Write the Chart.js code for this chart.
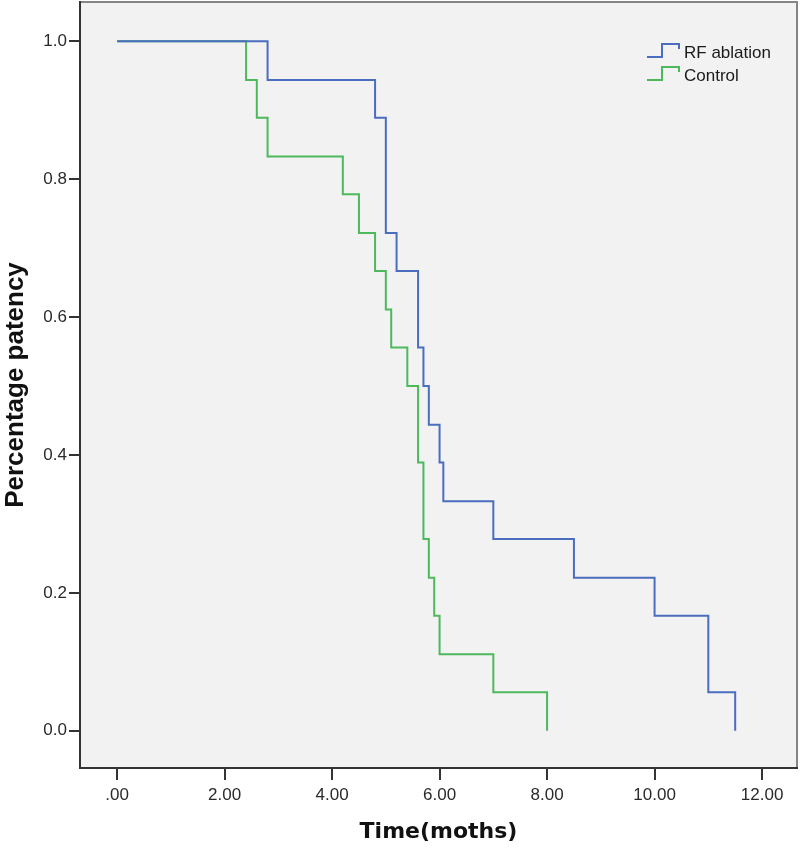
<!DOCTYPE html>
<html>
<head>
<meta charset="utf-8">
<script src="https://cdn.jsdelivr.net/npm/chart.js@4"></script>
<style>
  html, body { margin: 0; padding: 0; background: #ffffff; }
  #wrap { width: 800px; height: 849px; }
</style>
</head>
<body>
<div id="wrap"><canvas id="kmChart" width="800" height="849"></canvas></div>
<script>
// Kaplan-Meier steps (time in months, cumulative patency)
const rfTimes = [0, 2.8, 4.8, 5.0, 5.2, 5.6, 5.7, 5.8, 6.0, 6.07, 7.0, 8.5, 10.0, 11.0, 11.5];
const rfPatency = [1, 0.944, 0.889, 0.722, 0.667, 0.556, 0.5, 0.444, 0.389, 0.333, 0.278, 0.222, 0.167, 0.056, 0];

const controlTimes = [0, 2.4, 2.6, 2.8, 4.2, 4.5, 4.8, 5.0, 5.1, 5.4, 5.6, 5.7, 5.8, 5.9, 6.0, 7.0, 8.0];
const controlPatency = [1, 0.944, 0.889, 0.833, 0.778, 0.722, 0.667, 0.611, 0.556, 0.5, 0.389, 0.278, 0.222, 0.167, 0.111, 0.056, 0];

const seriesNames = ["RF ablation", "Control"];
const seriesColors = ["#4b6dc0", "#4db95c"];

const xTicks = [0, 2, 4, 6, 8, 10, 12];
const yTicks = [0, 0.2, 0.4, 0.6, 0.8, 1.0];

function toPoints(times, values) {
    return times.map((t, i) => ({ x: t, y: values[i] }));
}

// Plot background and grey top/right frame
const plotFrame = {
    id: "plotFrame",
    beforeDraw(chart) {
        const { ctx, chartArea: a } = chart;
        ctx.save();
        ctx.fillStyle = "#f2f2f2";
        ctx.fillRect(a.left, a.top, a.right - a.left, a.bottom - a.top);
        ctx.strokeStyle = "#858585";
        ctx.lineWidth = 2;
        ctx.beginPath();
        ctx.moveTo(a.left, a.top);
        ctx.lineTo(a.right, a.top);
        ctx.lineTo(a.right, a.bottom);
        ctx.stroke();
        ctx.restore();
    }
};

// SPSS style legend with little step icons, inside the plot
const stepLegend = {
    id: "stepLegend",
    afterDatasetsDraw(chart) {
        const { ctx, chartArea: a } = chart;
        ctx.save();
        ctx.font = "17px 'Liberation Sans', Arial, sans-serif";
        ctx.textBaseline = "middle";
        chart.data.datasets.forEach((ds, i) => {
            const x0 = a.right - 150;
            const yc = a.top + 51 + i * 23;
            ctx.strokeStyle = ds.borderColor;
            ctx.lineWidth = 2;
            ctx.beginPath();
            ctx.moveTo(x0, yc + 4);
            ctx.lineTo(x0 + 15, yc + 4);
            ctx.lineTo(x0 + 15, yc - 9);
            ctx.lineTo(x0 + 32, yc - 9);
            ctx.lineTo(x0 + 32, yc - 4);
            ctx.stroke();
            ctx.fillStyle = "#1a1a1a";
            ctx.fillText(ds.label, x0 + 37, yc);
        });
        ctx.restore();
    }
};

const ctx = document.getElementById("kmChart").getContext("2d");
new Chart(ctx, {
    type: "line",
    data: {
        datasets: [
            {
                label: seriesNames[0],
                data: toPoints(rfTimes, rfPatency),
                borderColor: seriesColors[0],
                borderWidth: 2,
                stepped: "before",
                pointRadius: 0,
                fill: false
            },
            {
                label: seriesNames[1],
                data: toPoints(controlTimes, controlPatency),
                borderColor: seriesColors[1],
                borderWidth: 2,
                stepped: "before",
                pointRadius: 0,
                fill: false
            }
        ]
    },
    options: {
        responsive: false,
        animation: false,
        layout: { padding: { top: 2, right: 3, left: 0, bottom: 0 } },
        plugins: {
            legend: { display: false },
            tooltip: { enabled: false }
        },
        scales: {
            x: {
                type: "linear",
                min: -0.69,
                max: 12.65,
                afterFit(scale) {
                    scale.height = 81;
                    scale.paddingLeft = 0;
                    scale.paddingRight = 0;
                },
                afterBuildTicks(scale) { scale.ticks = xTicks.map(v => ({ value: v })); },
                ticks: {
                    padding: 5,
                    color: "#2a2a2a",
                    font: { family: "'Liberation Sans', Arial, sans-serif", size: 17 },
                    callback: v => (v === 0 ? ".00" : v.toFixed(2))
                },
                grid: { drawOnChartArea: false, drawTicks: true, tickLength: 12, color: "#333333", lineWidth: 2 },
                border: { display: true, color: "#333333", width: 2 },
                title: {
                    display: true,
                    text: "Time(moths)",
                    color: "#111111",
                    padding: { top: 0, bottom: 4 },
                    font: { family: "'DejaVu Sans', Verdana, sans-serif", size: 22, weight: "bold" }
                }
            },
            y: {
                type: "linear",
                min: -0.054,
                max: 1.057,
                afterFit(scale) {
                    scale.width = 80;
                    scale.paddingTop = 0;
                    scale.paddingBottom = 0;
                },
                afterBuildTicks(scale) { scale.ticks = yTicks.map(v => ({ value: v })); },
                ticks: {
                    padding: 2,
                    color: "#2a2a2a",
                    font: { family: "'Liberation Sans', Arial, sans-serif", size: 17 },
                    callback: v => v.toFixed(1)
                },
                grid: { drawOnChartArea: false, drawTicks: true, tickLength: 11, color: "#333333", lineWidth: 2 },
                border: { display: true, color: "#333333", width: 2 },
                title: {
                    display: true,
                    text: "Percentage patency",
                    color: "#111111",
                    padding: { top: 0, bottom: 0 },
                    font: { family: "'Liberation Sans', Arial, sans-serif", size: 26, weight: "bold" }
                }
            }
        }
    },
    plugins: [plotFrame, stepLegend]
});
</script>
</body>
</html>
